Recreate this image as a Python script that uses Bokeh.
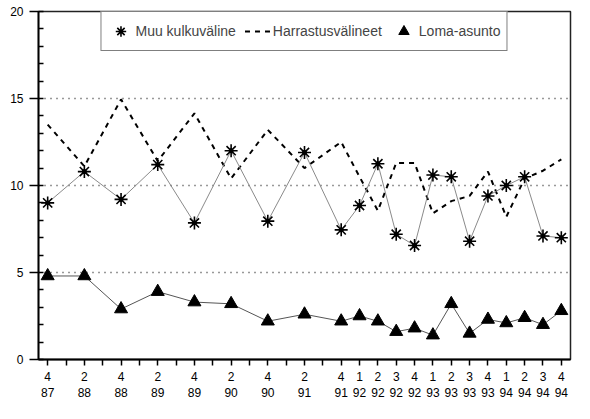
from bokeh.plotting import figure
from bokeh.models import Range1d, FixedTicker, SingleIntervalTicker, Legend, LegendItem
from bokeh.embed import file_html
from bokeh.resources import INLINE

# Quarter / year of each observation
periods = ["4/87", "2/88", "4/88", "2/89", "4/89", "2/90", "4/90", "2/91", "4/91",
           "1/92", "2/92", "3/92", "4/92", "1/93", "2/93", "3/93", "4/93",
           "1/94", "2/94", "3/94", "4/94"]

muu_kulkuvaline = [9.0, 10.8, 9.2, 11.2, 7.85, 12.0, 7.95, 11.9, 7.45,
                   8.85, 11.25, 7.2, 6.55, 10.6, 10.5, 6.8, 9.4,
                   10.0, 10.5, 7.1, 7.0]

harrastusvalineet = [13.5, 11.1, 14.95, 11.4, 14.15, 10.4, 13.2, 11.0, 12.5,
                     10.5, 8.55, 11.3, 11.3, 8.4, 9.1, 9.4, 10.8,
                     8.2, 10.4, 10.85, 11.5]

loma_asunto = [4.8, 4.8, 2.9, 3.9, 3.3, 3.2, 2.2, 2.6, 2.2,
               2.5, 2.2, 1.6, 1.8, 1.4, 3.2, 1.5, 2.3,
               2.1, 2.4, 2.0, 2.8]

first_year = 87
first_quarter = 4
n_quarters = 29


def q_index(period):
    q, yy = period.split("/")
    return (int(yy) - first_year) * 4 + int(q) - first_quarter


x = [q_index(pd) for pd in periods]

FONT = "Liberation Sans"

p = figure(width=574, height=403, output_backend="svg", toolbar_location=None,
           x_range=Range1d(-0.5, n_quarters - 0.5), y_range=Range1d(0, 20),
           min_border_left=38, min_border_right=4, min_border_top=11, min_border_bottom=38)

p.background_fill_color = "white"
p.border_fill_color = "white"
p.outline_line_color = "#222222"
p.outline_line_width = 1.5

# Lines
r_harr = p.line(x, harrastusvalineet, line_color="black", line_width=2, line_dash="5 5")
p.line(x, muu_kulkuvaline, line_color="#8a8a8a", line_width=1)
p.line(x, loma_asunto, line_color="#555555", line_width=1)

# Markers
r_tri = p.scatter(x, loma_asunto, marker="triangle", size=13, fill_color="black", line_color="black")
r_star = p.scatter(x, muu_kulkuvaline, marker="asterisk", size=13, line_color="black", line_width=1.6)
p.scatter(x, muu_kulkuvaline, marker="circle", size=4, fill_color="black", line_color="black")

# Axes
p.xaxis.ticker = FixedTicker(ticks=list(range(n_quarters)), minor_ticks=[])
overrides = {}
for i in range(n_quarters):
    overrides[i] = ""
for pd in periods:
    q, yy = pd.split("/")
    overrides[q_index(pd)] = q + "\n" + yy
p.xaxis.major_label_overrides = overrides

p.yaxis.ticker = SingleIntervalTicker(interval=5, num_minor_ticks=5)

for ax in (p.xaxis[0], p.yaxis[0]):
    ax.axis_line_color = "black"
    ax.axis_line_width = 1.8
    ax.major_tick_line_color = "black"
    ax.major_tick_line_width = 1.5
    ax.minor_tick_line_color = "black"
    ax.minor_tick_line_width = 1.5
    ax.major_label_text_font = FONT
    ax.major_label_text_font_size = "12px"
    ax.major_label_text_color = "black"

p.xaxis.major_tick_in = 0
p.xaxis.major_tick_out = 6
p.xaxis.major_label_standoff = 4

p.yaxis.major_tick_in = 0
p.yaxis.major_tick_out = 9
p.yaxis.minor_tick_in = 5
p.yaxis.minor_tick_out = 0
p.yaxis.major_label_standoff = 6

# Grid
p.xgrid.visible = False
p.ygrid.ticker = FixedTicker(ticks=[5, 10, 15])
p.ygrid.grid_line_color = "#333333"
p.ygrid.grid_line_width = 1.5
p.ygrid.grid_line_dash = "1 5"

legend = Legend(items=[
    LegendItem(label="Muu kulkuväline", renderers=[r_star]),
    LegendItem(label="Harrastusvälineet", renderers=[r_harr]),
    LegendItem(label="Loma-asunto", renderers=[r_tri]),
], location="top_center", orientation="horizontal", margin=0, padding=6,
    spacing=9, glyph_width=26, glyph_height=26, label_standoff=2,
    border_line_color="black", border_line_width=1.5, background_fill_alpha=1,
    label_text_font=FONT, label_text_font_size="14px")
p.add_layout(legend)

open("out.html", "w").write(file_html(p, INLINE))
